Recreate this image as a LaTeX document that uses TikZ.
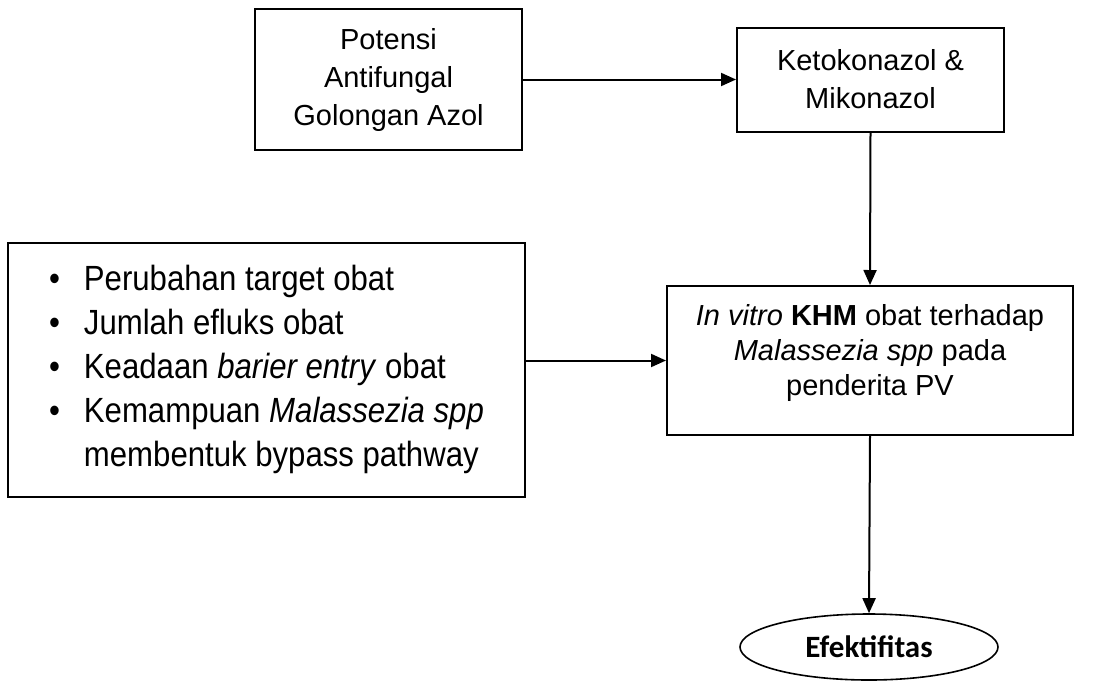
\documentclass[tikz,border=0pt]{standalone}
\usepackage{fontspec}
\setmainfont{Liberation Sans}
\newfontfamily\sempit[FakeStretch=0.89]{Liberation Sans}
\newfontfamily\calibri{Carlito}
\usetikzlibrary{arrows.meta,shapes.geometric}
\tikzset{
  kotak/.style={draw, line width=2pt, align=center, inner sep=0pt},
  panah/.style={line width=2pt, -{Triangle[length=15pt,width=13pt]}}
}
\begin{document}
\begin{tikzpicture}[x=1pt,y=-1pt]
  \useasboundingbox (0,0) rectangle (1097,681);
  % kotak atas
  \node[kotak, minimum width=267pt, minimum height=141pt, font=\fontsize{29}{38}\selectfont] (potensi) at (388.5,79.5) {Potensi\\Antifungal\\Golongan Azol};
  \node[kotak, minimum width=267pt, minimum height=104pt, font=\fontsize{29}{38}\selectfont] (obat) at (870.5,79.5) {Ketokonazol \&\\Mikonazol};
  % kotak tengah
  \node[kotak, minimum width=406pt, minimum height=149pt, font=\fontsize{29}{35}\selectfont] (khm) at (870,360.5) {\textit{In vitro} \textbf{KHM} obat terhadap\\\textit{Malassezia spp} pada\\penderita PV\\[-14pt]\mbox{}};
  \node[kotak, minimum width=517pt, minimum height=254pt, font=\sempit\fontsize{35}{44}\selectfont] (faktor) at (266.5,370) {\begin{tabular}{@{}l@{\hspace{24pt}}l@{}}
      \textbullet & Perubahan target obat\\
      \textbullet & Jumlah efluks obat\\
      \textbullet & Keadaan \textit{barier entry} obat\\
      \textbullet & Kemampuan \textit{Malassezia spp}\\
                  & membentuk bypass pathway
    \end{tabular}};
  % hasil
  \node[draw, ellipse, line width=1.6pt, minimum width=258pt, minimum height=66pt, inner sep=0pt, font=\calibri\bfseries\fontsize{31}{36}\selectfont] (efek) at (869,647) {Efektifitas};
  % panah
  \draw[panah] (potensi.east) -- (obat.west);
  \draw[panah] (obat.south) -- (khm.north);
  \draw[panah] (faktor.east |- khm.west) -- (khm.west);
  \draw[panah] (khm.south) -- (efek.north);
\end{tikzpicture}
\end{document}
